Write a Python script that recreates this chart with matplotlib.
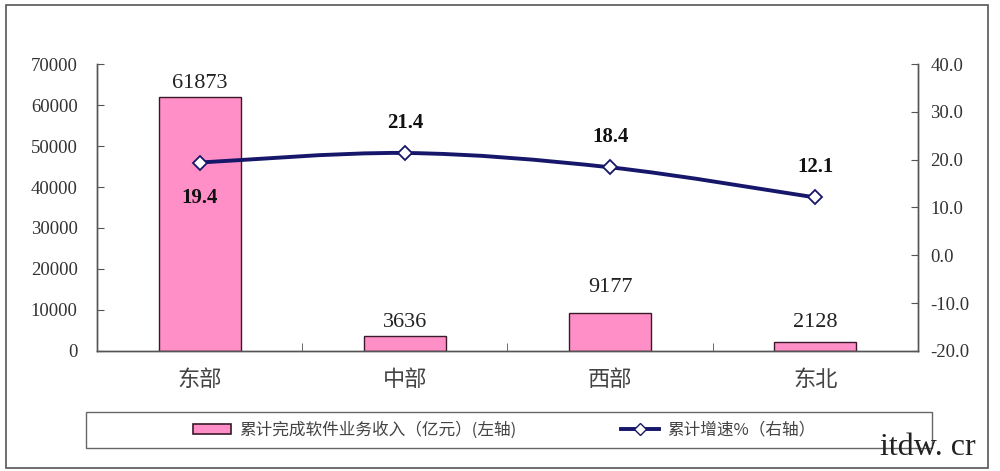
import numpy as np
import matplotlib.pyplot as plt
from matplotlib.path import Path
from matplotlib.patches import PathPatch, Rectangle, Patch
from matplotlib.lines import Line2D

regions = ['东部', '中部', '西部', '东北']
revenue = [61873, 3636, 9177, 2128]
growth = [19.4, 21.4, 18.4, 12.1]
left_ticks = [0, 10000, 20000, 30000, 40000, 50000, 60000, 70000]
right_ticks = [-20, -10, 0, 10, 20, 30, 40]

# label gaps above the bars, in pixels (as placed in the original)
bar_label_gap = [4, 4, 16, 10]

serif = ['Liberation Serif', 'Noto Sans CJK SC']
cjk = ['Noto Sans CJK SC', 'DejaVu Sans']
bar_color = '#ff8fc6'
line_color = '#16166a'
axis_color = '#555555'

fig = plt.figure(figsize=(10, 4.71), dpi=100)
ax = fig.add_axes([0.097, 0.2548, 0.821, 0.6093])
ax2 = ax.twinx()

x = np.arange(len(regions))
bars = ax.bar(x, revenue, width=0.4, color=bar_color, edgecolor='#3a1a2a', linewidth=1.0, zorder=2)
ax.set_xlim(-0.5, len(regions) - 0.5)
ax.set_ylim(0, 70000)
ax.set_yticks(left_ticks)
ax.set_yticklabels([str(t) for t in left_ticks], family=serif, fontsize=13.5, color='#333333')
ax.set_xticks(x)
ax.set_xticklabels(regions, family=cjk, fontsize=16, color='#444444')
ax.set_xticks(x[:-1] + 0.5, minor=True)
ax.tick_params(axis='x', which='major', length=0, pad=12)
ax.tick_params(axis='x', which='minor', direction='in', length=6, color=axis_color)
ax.tick_params(axis='y', direction='in', length=5, color=axis_color, pad=14)

for b, v, gap in zip(bars, revenue, bar_label_gap):
    ax.annotate(str(v), (b.get_x() + b.get_width() / 2, v), xytext=(0, gap),
                textcoords='offset pixels', ha='center', va='bottom',
                family=serif, fontsize=16, color='#222222')

ax2.set_ylim(-20, 40)
ax2.set_yticks(right_ticks)
ax2.set_yticklabels(['%.1f' % t for t in right_ticks], family=serif, fontsize=13.5, color='#333333')
ax2.tick_params(axis='y', direction='in', length=5, color=axis_color, pad=9)

for a in (ax, ax2):
    a.spines['top'].set_visible(False)
    for s in ('left', 'right', 'bottom'):
        a.spines[s].set_color(axis_color)
        a.spines[s].set_linewidth(1.0)

# smoothed line (Catmull-Rom style bezier, like the spreadsheet "smooth line")
pts = np.column_stack([x, growth]).astype(float)
ext = np.vstack([pts[0], pts, pts[-1]])
verts = [tuple(pts[0])]
codes = [Path.MOVETO]
for i in range(len(pts) - 1):
    p0, p1, p2, p3 = ext[i], ext[i + 1], ext[i + 2], ext[i + 3]
    c1 = p1 + (p2 - p0) / 6
    c2 = p2 - (p3 - p1) / 6
    verts += [tuple(c1), tuple(c2), tuple(p2)]
    codes += [Path.CURVE4] * 3
ax2.add_patch(PathPatch(Path(verts, codes), facecolor='none', edgecolor=line_color, lw=2.8, zorder=3))
ax2.plot(x, growth, linestyle='none', marker='D', markersize=7, markerfacecolor='white',
         markeredgecolor=line_color, markeredgewidth=1.3, zorder=4)

for i, g in enumerate(growth):
    if i == 0:
        ax2.annotate('%.1f' % g, (x[i], g), xytext=(0, -25), textcoords='offset pixels',
                     ha='center', va='top', family=serif, fontsize=15, fontweight='bold', color='#111111')
    else:
        ax2.annotate('%.1f' % g, (x[i], g), xytext=(0, 20), textcoords='offset pixels',
                     ha='center', va='bottom', family=serif, fontsize=15, fontweight='bold', color='#111111')

# legend and frames
fig.patches.append(Rectangle((0.086, 0.049), 0.846, 0.076, transform=fig.transFigure,
                             fill=False, edgecolor='#666666', linewidth=1.0))
fig.patches.append(Rectangle((0.006, 0.006), 0.982, 0.983, transform=fig.transFigure,
                             fill=False, edgecolor='#555555', linewidth=1.2))
handles = [Patch(facecolor=bar_color, edgecolor='#3a1a2a', linewidth=1.2),
           Line2D([0], [0], color=line_color, lw=2.8, marker='D', markersize=6,
                  markerfacecolor='white', markeredgecolor=line_color)]
labels = ['累计完成软件业务收入（亿元）(左轴)', '累计增速%（右轴）']
fig.legend(handles, labels, loc='center', bbox_to_anchor=(0.504, 0.087), ncol=2, frameon=False,
           prop={'family': cjk, 'size': 12}, columnspacing=6.3, handlelength=2.3,
           handleheight=0.55, handletextpad=0.45, labelcolor='#444444')

# watermark
fig.text(0.928, 16 / 471, 'itdw. cr', ha='center', va='baseline',
         family='Liberation Serif', fontsize=23, color='#222222')

fig.savefig('out.png', dpi=100)
